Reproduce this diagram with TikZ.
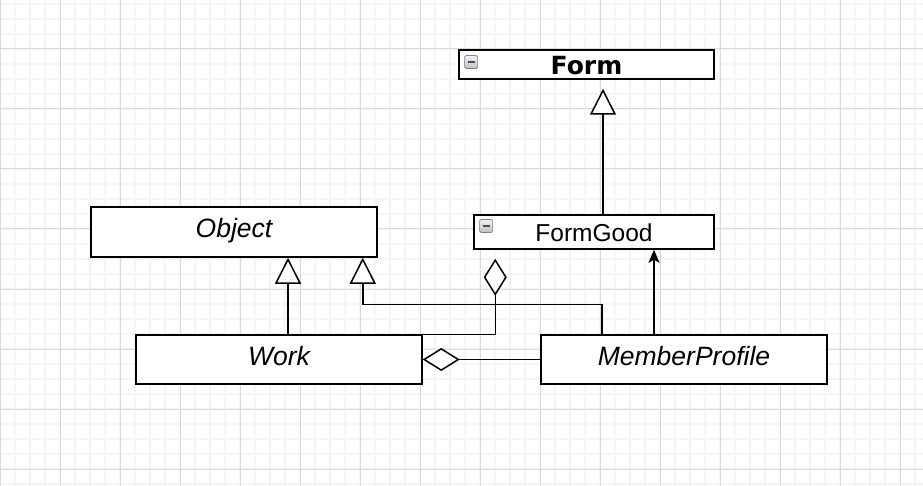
\documentclass[tikz,border=0pt]{standalone}
\usepackage{fontspec}
\setmainfont{Liberation Sans}
\newfontfamily\headfont{DejaVu Sans}
\usepackage{tikz}
\usetikzlibrary{arrows.meta,positioning}
\definecolor{gridmajor}{HTML}{DADADA}
\definecolor{gridminor}{HTML}{F5F5F5}
\definecolor{iconedge}{HTML}{7D838B}

\begin{document}
\begin{tikzpicture}[
  x=1pt, y=-1pt,
  box/.style={draw, line width=1.5pt, fill=white, inner sep=0pt},
  cls/.style={box, minimum width=286pt, minimum height=49pt, text height=19pt, text depth=8pt,
    font=\fontsize{26.5}{30}\selectfont\itshape},
  pkg/.style={box, text depth=0pt},
  icon/.style={draw=iconedge, rounded corners=1.5pt, top color=gray!10, bottom color=gray!50,
    minimum size=13pt, inner sep=0pt, line width=0.7pt,
    path picture={\draw[line width=1.8pt, black!70]
      ([xshift=3pt]path picture bounding box.west) -- ([xshift=-3pt]path picture bounding box.east);}},
  inherit/.style={-{Triangle[length=26pt, width=26pt, fill=white]}, line width=1.5pt},
  aggr/.style={-{Diamond[length=37pt, width=23pt, fill=white]}, line width=1.5pt},
  assoc/.style={-{Stealth[length=13pt, width=11pt, inset=3pt]}, line width=1.5pt},
  minorline/.style={gridminor, line width=1.6pt},
  majorline/.style={gridmajor, line width=1pt},
]
\useasboundingbox[fill=white] (0,0) rectangle (923,486);

% ---- background grid ----
\foreach \x in {15,30,...,915} \draw[minorline] (\x,0) -- (\x,486);
\foreach \y in {4,19,...,484} \draw[minorline] (0,\y) -- (923,\y);
\foreach \x in {0,60,...,900} \draw[majorline] (\x,0) -- (\x,486);
\foreach \y in {49,109,...,469} \draw[majorline] (0,\y) -- (923,\y);

% ---- classes ----
\node[pkg, minimum width=255pt, minimum height=29pt, text height=21pt,
  font=\headfont\bfseries\fontsize{25}{30}\selectfont] (form) at (586.5,64.5) {Form};
\node[pkg, minimum width=240pt, minimum height=34pt, text height=20pt,
  font=\fontsize{24.5}{30}\selectfont] (fgood) at (594,232) {FormGood};
\node[icon, below right=6pt and 6pt of form.north west] (formicon) {};
\node[icon, below right=5pt and 6pt of fgood.north west] (fgoodicon) {};

\node[cls, minimum height=50pt] (obj) at (234,232) {Object};
\node[cls] (work)  at (279,359.5) {Work};
\node[cls] (mprof) at (684,359.5) {MemberProfile};

% ---- generalisations ----
\draw[inherit, shorten >=9pt] ([xshift=9pt]fgood.north) -- ([xshift=9pt]fgood.north |- form.south);
\draw[inherit] ([xshift=9pt]work.north) -- ([xshift=9pt]work.north |- obj.south);
\draw[inherit] ([xshift=-82pt]mprof.north) -- ++(0,-30) -| ([xshift=-15pt]obj.south east);

% ---- aggregations and association ----
\draw[aggr, shorten >=9pt] (work.north east) -| ([xshift=22pt]fgood.south west);
\draw[aggr] (mprof.west) -- (work.east);
\draw[assoc] ([xshift=-30pt]mprof.north) -- ([xshift=-30pt]mprof.north |- fgood.south);
\end{tikzpicture}
\end{document}
